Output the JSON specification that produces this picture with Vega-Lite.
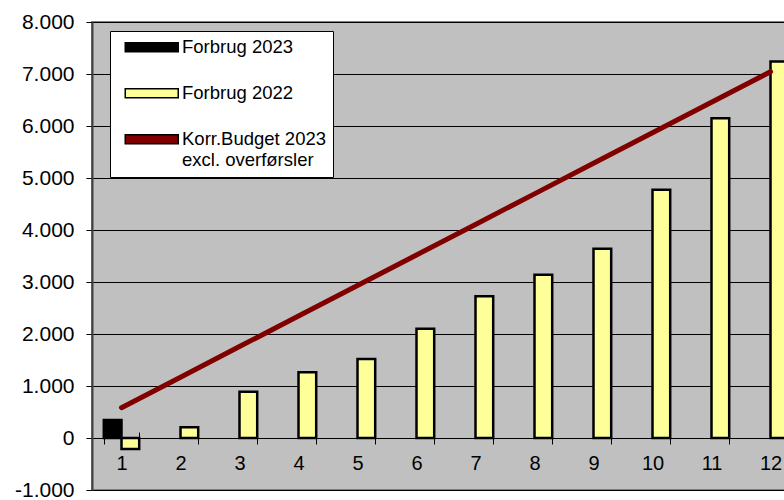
{
  "$schema": "https://vega.github.io/schema/vega-lite/v6.json",
  "autosize": {"type": "none"},
  "padding": {"left": 92, "top": 22, "right": 0, "bottom": 10},
  "width": 708,
  "height": 468,
  "background": "white",
  "config": {
    "font": "Liberation Sans",
    "view": {"fill": "#C0C0C0", "stroke": "#808080", "strokeWidth": 2},
    "legend": {
      "orient": "none", "legendX": 18, "legendY": 9, "title": null,
      "fillColor": "white", "strokeColor": "black", "padding": 7,
      "labelFont": "Liberation Sans", "labelFontSize": 18.5, "labelColor": "black",
      "symbolType": "M-5.3,-0.9H5.3V0.9H-5.3Z", "symbolSize": 100,
      "symbolOffset": 25.5, "rowPadding": 27, "labelOffset": 21, "labelLimit": 400
    }
  },
  "datasets": {
    "bars": [
      {"month": 1, "series": "Forbrug 2023", "value": 345},
      {"month": 1, "series": "Forbrug 2022", "value": -210},
      {"month": 2, "series": "Forbrug 2022", "value": 205},
      {"month": 3, "series": "Forbrug 2022", "value": 890},
      {"month": 4, "series": "Forbrug 2022", "value": 1265},
      {"month": 5, "series": "Forbrug 2022", "value": 1520},
      {"month": 6, "series": "Forbrug 2022", "value": 2100},
      {"month": 7, "series": "Forbrug 2022", "value": 2725},
      {"month": 8, "series": "Forbrug 2022", "value": 3140},
      {"month": 9, "series": "Forbrug 2022", "value": 3640},
      {"month": 10, "series": "Forbrug 2022", "value": 4775},
      {"month": 11, "series": "Forbrug 2022", "value": 6150},
      {"month": 12, "series": "Forbrug 2022", "value": 7240}
    ],
    "budget": [
      {"month": 1, "value": 583},
      {"month": 2, "value": 1170},
      {"month": 3, "value": 1758},
      {"month": 4, "value": 2345},
      {"month": 5, "value": 2933},
      {"month": 6, "value": 3520},
      {"month": 7, "value": 4107},
      {"month": 8, "value": 4695},
      {"month": 9, "value": 5282},
      {"month": 10, "value": 5870},
      {"month": 11, "value": 6457},
      {"month": 12, "value": 7044}
    ]
  },
  "layer": [
    {
      "data": {"name": "bars"},
      "mark": {"type": "bar", "stroke": "black", "strokeWidth": 2.5, "fillOpacity": 1},
      "encoding": {
        "x": {
          "field": "month", "type": "ordinal",
          "scale": {"paddingInner": 0.4, "paddingOuter": 0.2},
          "axis": {
            "title": null, "domain": false, "grid": false, "labelAngle": 0,
            "offset": -58, "tickSize": 12, "tickColor": "black", "tickWidth": 1,
            "tickBand": "extent", "labelPadding": 9, "labelFontSize": 20,
            "labelColor": "black", "labelFont": "Liberation Sans"
          }
        },
        "xOffset": {"field": "series", "type": "nominal", "scale": {"domain": ["Forbrug 2023", "Forbrug 2022"]}},
        "y": {
          "field": "value", "type": "quantitative",
          "scale": {"domain": [-1000, 8000], "nice": false, "zero": false},
          "axis": {
            "title": null,
            "values": [-1000, 0, 1000, 2000, 3000, 4000, 5000, 6000, 7000, 8000],
            "labelExpr": "(datum.value < 0 ? '-' : '') + replace(format(abs(datum.value), ','), ',', '.')",
            "grid": true, "gridColor": "black", "gridWidth": 1, "gridOpacity": 1,
            "domain": true, "domainColor": "#404040", "domainWidth": 2,
            "tickSize": 6, "tickColor": "black", "labelPadding": 12,
            "labelFontSize": 21, "labelColor": "black", "labelFont": "Liberation Sans"
          }
        },
        "color": {
          "field": "series", "type": "nominal",
          "scale": {
            "domain": ["Forbrug 2023", "Forbrug 2022", "Korr.Budget 2023 excl. overførsler"],
            "range": ["#000000", "#FFFF99", "#800000"]
          },
          "legend": {
            "labelExpr": "datum.label == 'Korr.Budget 2023 excl. overførsler' ? ['Korr.Budget 2023', 'excl. overførsler'] : datum.label",
            "encode": {
              "symbols": {
                "update": {
                  "shape": {"signal": "datum.value == 'Korr.Budget 2023 excl. overførsler' ? 'M-5.3,0H5.3' : 'M-5.3,-0.9H5.3V0.9H-5.3Z'"},
                  "stroke": {"condition": {"test": "datum.value == 'Korr.Budget 2023 excl. overførsler'", "value": "#800000"}, "value": "#000000"},
                  "strokeWidth": {"signal": "datum.value == 'Korr.Budget 2023 excl. overførsler' ? 4.5 : 2"},
                  "strokeCap": {"value": "round"},
                  "opacity": {"value": 1},
                  "fillOpacity": {"value": 1},
                  "strokeOpacity": {"value": 1}
                }
              }
            }
          }
        }
      }
    },
    {
      "data": {"name": "budget"},
      "mark": {"type": "line", "strokeWidth": 5, "strokeCap": "round", "color": "#800000"},
      "encoding": {
        "x": {"field": "month", "type": "ordinal"},
        "y": {"field": "value", "type": "quantitative"}
      }
    }
  ]
}
